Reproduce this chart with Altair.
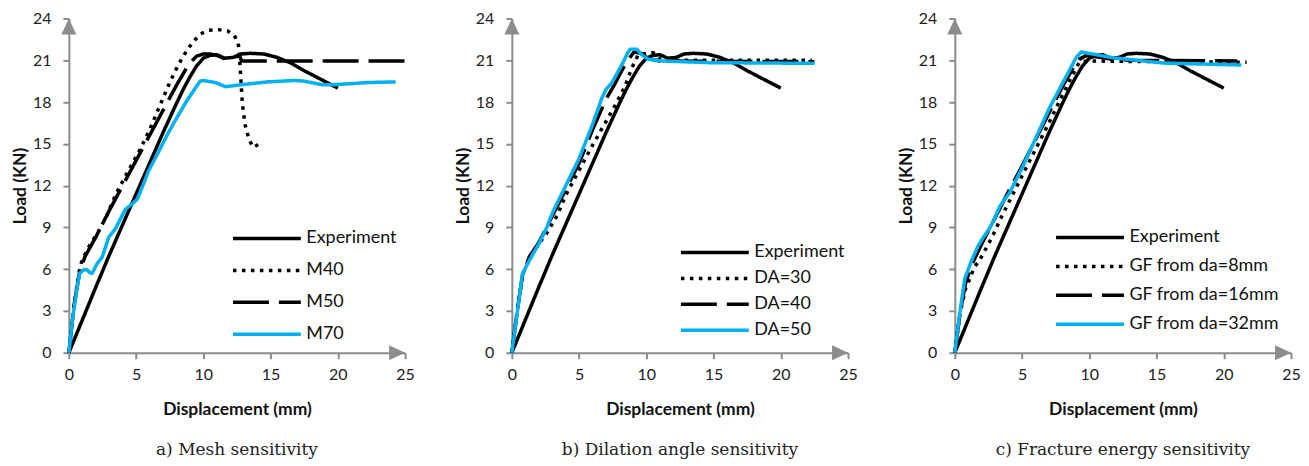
import altair as alt
import pandas as pd

# ---------------- data ----------------
exp_x = [0, 1, 2, 3, 4, 5, 6, 7, 8, 8.5, 9, 9.5, 10, 10.5, 11, 11.6, 12.2, 12.8, 13.5, 14.5, 15.5, 16.5, 17.5, 18.5, 19.3, 20]
exp_y = [0, 2.35, 4.7, 7.0, 9.2, 11.4, 13.6, 15.8, 17.9, 18.9, 19.8, 20.6, 21.15, 21.35, 21.4, 21.15, 21.2, 21.45, 21.5, 21.45, 21.2, 20.8, 20.25, 19.75, 19.35, 19.0]

# a) Mesh sensitivity
m40_x = [0, 0.4, 0.8, 1.0, 1.6, 2.2, 2.8, 3.5, 4.5, 5.3, 6.0, 6.7, 7.5, 8.0, 8.5, 9.2, 9.8, 10.4, 11.1, 11.8, 12.3, 12.6, 12.7, 12.8, 12.9, 13.1, 13.4, 13.7, 14.0, 14.4]
m40_y = [0, 3.5, 6.0, 6.7, 7.8, 8.7, 9.8, 11.4, 13.2, 14.6, 16.0, 17.6, 19.4, 20.4, 21.3, 22.3, 22.9, 23.15, 23.2, 23.1, 22.8, 22.2, 21.0, 19.5, 17.9, 16.4, 15.3, 14.75, 14.9, 15.2]
m50_x = [0, 0.4, 0.8, 1.2, 2, 3, 4, 5, 6, 7, 8, 8.9, 9.5, 10, 10.5, 11, 11.7, 12.2, 12.7, 12.85, 13.5, 25]
m50_y = [0, 3.5, 5.8, 6.9, 8.3, 10.2, 12.0, 13.8, 15.6, 17.4, 19.2, 20.7, 21.3, 21.45, 21.45, 21.35, 21.05, 21.25, 21.3, 20.95, 20.95, 20.95]
m70_x = [0, 0.3, 0.62, 0.81, 1.1, 1.36, 1.55, 1.73, 2.1, 2.47, 2.97, 3.46, 4.2, 4.6, 5.07, 5.5, 5.93, 6.6, 7.4, 8.1, 8.78, 9.4, 9.76, 10.0, 10.9, 11.65, 12.85, 14.8, 16.8, 17.5, 18.8, 19.8, 22.2, 24.3]
m70_y = [0, 2.6, 4.7, 5.7, 5.95, 5.95, 5.75, 5.7, 6.4, 6.85, 8.3, 8.9, 10.3, 10.6, 11.0, 12.0, 13.07, 14.3, 15.8, 17.0, 18.1, 19.0, 19.5, 19.55, 19.4, 19.1, 19.25, 19.45, 19.55, 19.5, 19.25, 19.25, 19.4, 19.45]

# b) Dilation angle sensitivity
da30_x = [0, 0.4, 0.8, 1.3, 2, 2.6, 3.4, 4, 5, 6, 7, 7.7, 8.4, 8.9, 9.4, 10, 10.5, 11, 12, 22.3]
da30_y = [0, 3.0, 5.6, 6.8, 7.8, 8.6, 9.9, 11.3, 13.1, 14.9, 16.6, 17.8, 19.1, 20.4, 21.4, 21.5, 21.55, 21.1, 21.0, 21.0]
da40_x = [0, 0.4, 0.8, 1.3, 2, 3, 4, 5, 6, 7, 7.6, 8.2, 8.7, 9.1, 9.6, 10.2, 11, 22.5]
da40_y = [0, 3.0, 5.6, 6.9, 7.9, 9.8, 11.7, 13.6, 16.0, 18.2, 19.2, 20.3, 21.1, 21.6, 21.5, 21.1, 20.95, 20.9]
da50_x = [0, 0.42, 0.79, 1.29, 2.03, 2.6, 3.0, 3.5, 4.0, 4.98, 5.97, 6.7, 7.0, 7.45, 8.19, 8.6, 8.8, 9.3, 9.66, 10.16, 11.14, 14.6, 22.5]
da50_y = [0, 3.0, 5.66, 6.6, 7.86, 9.0, 10.0, 11.0, 11.97, 13.9, 16.3, 18.3, 18.9, 19.4, 20.7, 21.5, 21.8, 21.8, 21.4, 21.07, 20.95, 20.83, 20.78]

# c) Fracture energy sensitivity
gf8_x = [0, 0.4, 0.8, 1.06, 1.48, 1.8, 2.6, 2.97, 3.34, 3.84, 5, 6, 7, 8, 8.78, 9.03, 9.3, 10, 15, 21.7]
gf8_y = [0, 2.9, 4.6, 5.2, 6.2, 6.56, 7.99, 8.7, 9.5, 10.46, 12.7, 14.6, 16.5, 18.5, 20.0, 20.45, 20.9, 20.95, 20.9, 20.85]
gf16_x = [0, 0.4, 0.8, 1.3, 2, 3, 4, 5, 6, 7, 8, 8.7, 9.3, 9.8, 10.5, 11.5, 13, 21.0]
gf16_y = [0, 2.9, 5.0, 6.4, 7.8, 9.7, 11.6, 13.4, 15.3, 17.2, 19.1, 20.3, 21.1, 21.35, 21.25, 21.1, 21.0, 20.95]
gf32_x = [0, 0.37, 0.74, 1.24, 1.73, 2.1, 2.6, 2.97, 3.34, 4.08, 5.07, 6.06, 7.05, 8.04, 9.03, 9.4, 9.78, 11.76, 15.5, 21.3]
gf32_y = [0, 2.85, 5.3, 6.6, 7.66, 8.25, 8.95, 9.65, 10.5, 11.5, 13.4, 15.5, 17.6, 19.4, 21.2, 21.6, 21.53, 21.18, 20.8, 20.66]

x_ticks = [0, 5, 10, 15, 20, 25]
y_ticks = [0, 3, 6, 9, 12, 15, 18, 21, 24]
x_end = 25
y_end = 24

panels = [
    ("a) Mesh sensitivity",
     [("Experiment", exp_x, exp_y), ("M40", m40_x, m40_y), ("M50", m50_x, m50_y), ("M70", m70_x, m70_y)]),
    ("b) Dilation angle sensitivity",
     [("Experiment", exp_x, exp_y), ("DA=30", da30_x, da30_y), ("DA=40", da40_x, da40_y), ("DA=50", da50_x, da50_y)]),
    ("c) Fracture energy sensitivity",
     [("Experiment", exp_x, exp_y), ("GF from da=8mm", gf8_x, gf8_y), ("GF from da=16mm", gf16_x, gf16_y), ("GF from da=32mm", gf32_x, gf32_y)]),
]

colors = ["#000000", "#000000", "#000000", "#00B0F0"]
dashes = [[1, 0], [3.5, 5.5], [36, 10], [1, 0]]
# legendX, legendY, rowPadding per panel
legend_place = [(188, 210, 12), (193, 224, 6), (125, 209, 9)]

GRAY = "#8c8c8c"
W, H = 337, 335


def panel(title, series, place):
    rows = []
    for name, xs, ys in series:
        for i, (x, y) in enumerate(zip(xs, ys)):
            rows.append({"s": name, "x": x, "y": y, "o": i})
    df = pd.DataFrame(rows)
    names = [s[0] for s in series]
    lx, ly, rp = place
    leg = alt.Legend(
        orient="none", legendX=lx, legendY=ly, title=None, padding=0,
        symbolType="M-4,0H4", symbolSize=289, symbolStrokeWidth=3.5,
        labelFont="Lato", labelFontSize=18, labelFontWeight="normal", labelColor="#111",
        labelOffset=29, rowPadding=rp, labelLimit=300,
    )
    lines = alt.Chart(df).mark_line(strokeWidth=3.5, strokeJoin="round").encode(
        x=alt.X("x:Q", scale=alt.Scale(domain=[0, x_end], nice=False),
                axis=alt.Axis(values=x_ticks, title="Displacement (mm)")),
        y=alt.Y("y:Q", scale=alt.Scale(domain=[0, y_end], nice=False),
                axis=alt.Axis(values=y_ticks, title="Load (KN)")),
        color=alt.Color("s:N", scale=alt.Scale(domain=names, range=colors), legend=leg),
        strokeDash=alt.StrokeDash("s:N", scale=alt.Scale(domain=names, range=dashes), legend=leg),
        order="o:Q",
    )
    up = alt.Chart(pd.DataFrame({"x": [0], "y": [y_end]})).mark_point(
        shape="M0,0L-0.47,1L0.47,1Z", size=1024, filled=True, color=GRAY, opacity=1
    ).encode(x="x:Q", y="y:Q")
    right = alt.Chart(pd.DataFrame({"x": [x_end], "y": [0]})).mark_point(
        shape="M0,0L-1,-0.47L-1,0.47Z", size=1024, filled=True, color=GRAY, opacity=1
    ).encode(x="x:Q", y="y:Q")
    return alt.layer(lines, up, right).properties(
        width=W, height=H,
        title=alt.TitleParams(title, orient="bottom", anchor="middle", frame="group",
                              font="DejaVu Serif", fontSize=17, fontWeight="normal",
                              color="#222", offset=24),
    )


charts = [panel(t, s, p) for (t, s), p in zip(panels, legend_place)]
chart = alt.hconcat(*charts, spacing=39).resolve_scale(
    color="independent", strokeDash="independent", x="independent", y="independent"
).properties(padding={"left": 3, "top": 2, "right": 0, "bottom": 0}).configure_view(stroke=None).configure_axis(
    grid=False, domainColor=GRAY, domainWidth=2, tickColor=GRAY, tickWidth=2, tickSize=6,
    labelFont="Lato", labelFontSize=16, labelColor="#222", labelFlush=False,
    titleFont="Lato", titleFontSize=17.5, titleFontWeight="bold", titleColor="#111",
).configure_axisX(labelPadding=8, titlePadding=18).configure_axisY(labelPadding=12, titlePadding=3)

chart.save("out.html", embed_options={"renderer": "svg", "actions": False})
